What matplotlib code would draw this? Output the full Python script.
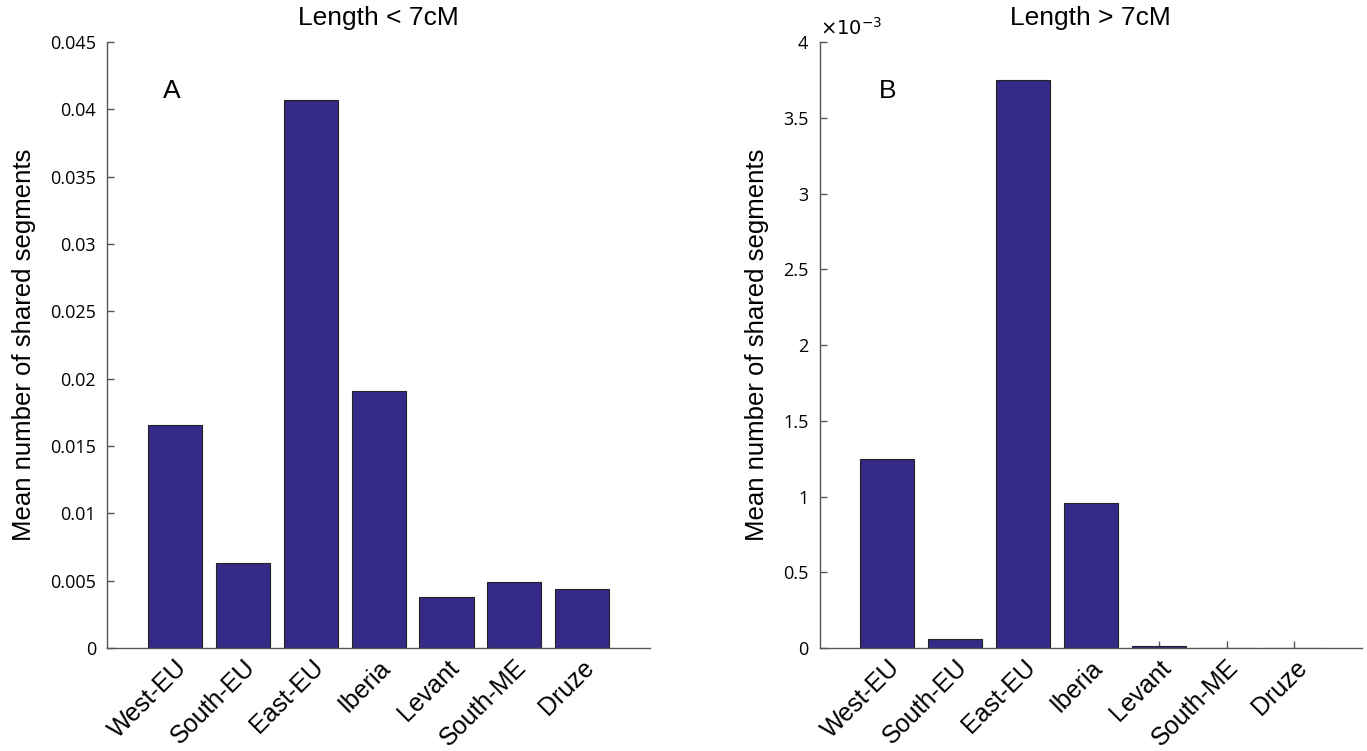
import matplotlib
matplotlib.use("Agg")
import matplotlib.pyplot as plt
from matplotlib.ticker import FuncFormatter, MultipleLocator

categories = ["West-EU", "South-EU", "East-EU", "Iberia", "Levant", "South-ME", "Druze"]
short_vals = [0.0166, 0.0063, 0.0407, 0.0191, 0.0038, 0.0049, 0.0044]
long_vals = [1.25e-3, 0.06e-3, 3.75e-3, 0.96e-3, 0.012e-3, 0.0, 0.0]
titles = ["Length < 7cM", "Length > 7cM"]
panel_letters = ["A", "B"]
ylabel = "Mean number of shared segments"

plt.rcParams['font.family'] = ['Liberation Sans', 'DejaVu Sans']
bar_color = "#352A87"
spine_color = "#555555"

fig = plt.figure(figsize=(13.67, 7.51), dpi=100)
ax1 = fig.add_axes([0.0785, 0.137, 0.397, 0.807])
ax2 = fig.add_axes([0.5995, 0.137, 0.397, 0.807])

x = list(range(1, len(categories) + 1))

for ax, vals, title, letter in [(ax1, short_vals, titles[0], panel_letters[0]),
                                 (ax2, long_vals, titles[1], panel_letters[1])]:
    ax.bar(x, vals, width=0.8, color=bar_color, edgecolor="#222222", linewidth=0.8, zorder=2)
    ax.set_xlim(0, 8)
    ax.set_xticks(x)
    ax.set_xticklabels(categories, rotation=45, ha="right", rotation_mode="anchor", fontsize=18)
    ax.spines['top'].set_visible(False)
    ax.spines['right'].set_visible(False)
    for s in ['left', 'bottom']:
        ax.spines[s].set_color(spine_color)
        ax.spines[s].set_linewidth(1.0)
    ax.tick_params(axis='both', direction='in', color=spine_color, length=5, width=1.0)
    ax.tick_params(axis='y', labelsize=13, pad=8)
    ax.tick_params(axis='x', pad=5)
    for lbl in ax.get_yticklabels():
        lbl.set_family(['Open Sans', 'DejaVu Sans'])
    ax.set_title(title, fontsize=19, pad=12)
    ax.set_ylabel(ylabel, fontsize=18.5, labelpad=10)

ax1.set_ylim(0, 0.045)
ax1.yaxis.set_major_locator(MultipleLocator(0.005))
ax1.yaxis.set_major_formatter(FuncFormatter(lambda v, p: "%g" % round(v, 4)))
ax1.text(0.95, 0.0414, panel_letters[0], fontsize=19, ha="center", va="center")

ax2.set_ylim(0, 4e-3)
ax2.yaxis.set_major_locator(MultipleLocator(0.5e-3))
ax2.yaxis.set_major_formatter(FuncFormatter(lambda v, p: "%g" % round(v * 1e3, 3)))
ax2.text(0.0, 1.005, r"$\times10^{-3}$", transform=ax2.transAxes, fontsize=14,
         ha="left", va="bottom")
ax2.text(1.0, 3.68e-3, panel_letters[1], fontsize=19, ha="center", va="center")

for ax in (ax1, ax2):
    for lbl in ax.get_yticklabels():
        lbl.set_family(['Open Sans', 'DejaVu Sans'])

fig.savefig("out.png", dpi=100)
